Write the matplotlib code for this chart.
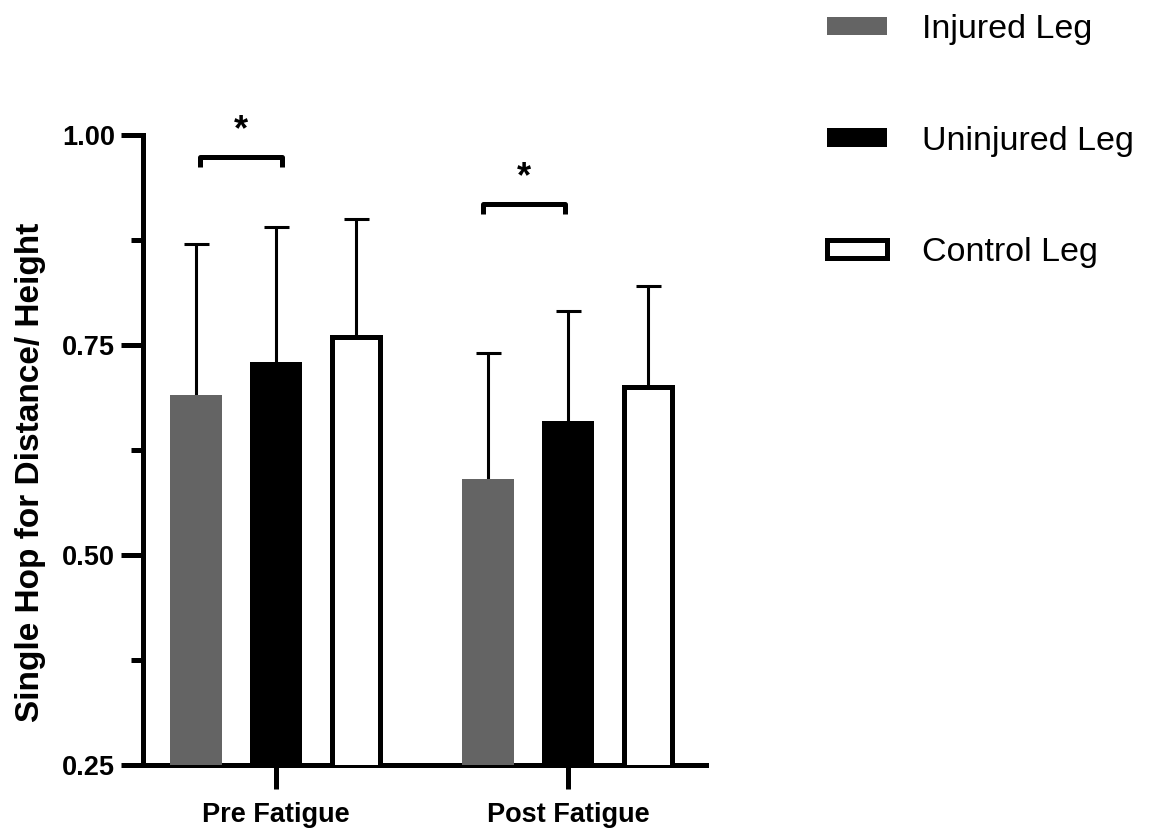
import matplotlib
matplotlib.use("Agg")
import matplotlib.pyplot as plt
import numpy as np

# ---- data ----
groups = ["Pre Fatigue", "Post Fatigue"]
series = ["Injured Leg", "Uninjured Leg", "Control Leg"]
injured_mean = [0.69, 0.59]
injured_sd = [0.18, 0.15]
uninjured_mean = [0.73, 0.66]
uninjured_sd = [0.16, 0.13]
control_mean = [0.76, 0.70]
control_sd = [0.14, 0.12]
yticks_major = [0.25, 0.50, 0.75, 1.00]
ytick_labels = ["0.25", "0.50", "0.75", "1.00"]
yticks_minor = [0.375, 0.625, 0.875]
ylabel = "Single Hop for Distance/ Height"
sig_label = "*"

plt.rcParams['font.family'] = ['Liberation Sans', 'DejaVu Sans']

fig = plt.figure(figsize=(11.57, 8.34), dpi=100)
ax = fig.add_axes([143/1157, 1-765/834, (706-143)/1157, (765-135)/834])

x = np.arange(len(groups))
offset = 0.274
styles = [
    dict(color="#646464", edgecolor="none", linewidth=0, width=0.178),
    dict(color="black", edgecolor="none", linewidth=0, width=0.178),
    dict(color="white", edgecolor="black", linewidth=3.6, width=0.164),
]
means = [injured_mean, uninjured_mean, control_mean]
sds = [injured_sd, uninjured_sd, control_sd]

handles = []
for i, (m, s, st) in enumerate(zip(means, sds, styles)):
    xp = x + (i - 1) * offset
    b = ax.bar(xp, m, bottom=0, zorder=3, label=series[i], **st)
    handles.append(b)
    eb = ax.errorbar(xp, m, yerr=[np.zeros(len(m)), s], fmt="none",
                     ecolor="black", elinewidth=2.2, capsize=9, capthick=2.2,
                     zorder=2)
    # hide the lower caps (one-sided error bars)
    eb[1][0].set_visible(False)

ax.set_xlim(-0.455, 1.473)
ax.set_ylim(0.25, 1.0)

for sp in ["top", "right"]:
    ax.spines[sp].set_visible(False)
for sp in ["left", "bottom"]:
    ax.spines[sp].set_linewidth(3.6)
    ax.spines[sp].set_capstyle("projecting")

ax.set_yticks(yticks_major)
ax.set_yticks(yticks_minor, minor=True)
ax.set_yticklabels(ytick_labels)
ax.set_xticks(x)
ax.set_xticklabels(groups)
ax.tick_params(axis="y", which="major", length=16, width=3.6, pad=4, labelsize=19.5)
ax.tick_params(axis="y", which="minor", length=9, width=3.6)
ax.tick_params(axis="x", which="major", length=17, width=3.6, pad=10, labelsize=19.5)
for lab in ax.get_yticklabels() + ax.get_xticklabels():
    lab.set_fontweight("bold")

ax.set_ylabel(ylabel, fontsize=24, fontweight="bold")
ax.yaxis.set_label_coords(-0.172, 0.465)

# significance brackets: (group index, left offset, right offset, top y, leg y)
brackets = [(0, -0.26, 0.02, 0.974, 0.962), (1, -0.29, -0.01, 0.918, 0.906)]
for (g, x0, x1, ytop, yleg) in brackets:
    xa, xb = x[g] + x0, x[g] + x1
    ax.plot([xa, xa, xb, xb], [yleg, ytop, ytop, yleg], color="black",
            linewidth=3.6, solid_joinstyle="round", solid_capstyle="butt",
            clip_on=False, zorder=4)
    ax.text((xa + xb) / 2, ytop + 0.031, sig_label, ha="center", va="center",
            fontsize=26, fontweight="bold", clip_on=False)

fig.legend(handles=handles, labels=series, loc="upper left",
           bbox_to_anchor=(827/1157, 1-14/834), frameon=False, fontsize=24.5,
           handlelength=1.75, handleheight=0.45, handletextpad=1.05,
           labelspacing=2.37, borderpad=0, borderaxespad=0)

fig.savefig("out.png", dpi=100)
